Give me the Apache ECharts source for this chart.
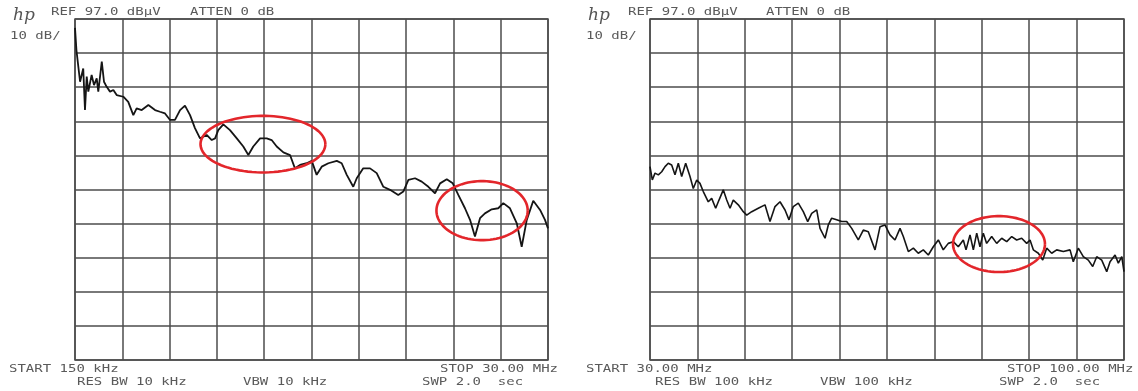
<!DOCTYPE html>
<html>
<head>
<meta charset="utf-8">
<style>html,body{margin:0;padding:0;background:#fff;}#c{width:1138px;height:391px;}</style>
<script src="https://cdn.jsdelivr.net/npm/echarts@6/dist/echarts.min.js"></script>
</head>
<body>
<div id="c"></div>
<script>
// ---- data (frequency MHz, level dBµV) ----
const leftRange = [0.15, 30];
const rightRange = [30, 100];
const levelRange = [-3, 97]; // REF 97.0 dBµV, 10 dB/div, 10 div

const leftTrace = [
[0.15,94.4],[0.24,87.9],[0.36,87.4],[0.47,78.6],[0.67,82.5],[0.78,70.3],[0.89,80.1],[0.99,75.7],
[1.20,80.6],[1.35,77.6],[1.52,79.6],[1.62,75.7],[1.84,84.5],[1.98,78.6],[2.15,77.1],[2.36,75.7],
[2.57,76.2],[2.78,74.7],[3.20,74.2],[3.51,72.7],[3.83,68.8],[4.04,70.8],[4.36,70.3],[4.78,71.8],
[5.20,70.3],[5.51,69.8],[5.83,69.3],[6.15,67.4],[6.46,67.4],[6.78,70.3],[7.09,71.6],[7.41,68.8],
[7.72,65.0],[8.04,62.0],[8.46,63.0],[8.78,61.5],[8.99,62.0],[9.19,64.4],[9.51,66.1],[9.93,64.4],
[10.36,62.0],[10.77,59.6],[11.09,57.1],[11.40,59.6],[11.83,62.0],[12.25,62.0],[12.56,61.5],[12.88,59.6],
[13.30,57.9],[13.72,57.1],[14.03,53.2],[14.35,54.2],[14.77,54.7],[15.09,55.4],[15.40,51.3],[15.72,53.7],
[16.14,54.7],[16.67,55.4],[16.98,54.7],[17.30,51.3],[17.71,47.8],[17.93,50.3],[18.34,53.2],[18.77,53.2],
[19.19,51.8],[19.61,47.8],[20.03,46.9],[20.55,45.4],[20.87,46.4],[21.19,49.8],[21.61,50.3],[22.03,49.3],
[22.45,47.8],[22.87,45.9],[23.19,48.8],[23.61,50.0],[23.99,48.8],[24.34,45.4],[24.76,41.5],[25.08,38.1],
[25.39,33.2],[25.71,38.6],[26.02,40.0],[26.45,41.2],[26.86,41.5],[27.18,43.0],[27.60,41.5],[28.03,37.1],
[28.34,30.2],[28.66,38.1],[29.07,43.7],[29.50,41.0],[29.81,38.1],[30.00,35.6]
];

const rightTrace = [
[30.00,53.7],[30.34,49.8],[30.74,51.8],[31.23,51.3],[31.73,52.2],[32.22,53.7],[32.70,54.7],[33.20,54.2],
[33.69,51.3],[34.18,54.7],[34.68,50.8],[35.27,54.7],[35.91,50.8],[36.39,47.3],[36.90,49.8],[37.38,48.8],
[37.87,46.4],[38.61,43.4],[39.11,44.4],[39.70,41.5],[40.19,43.9],[40.82,46.9],[41.33,43.9],[41.82,41.5],
[42.30,43.9],[43.04,42.5],[43.78,40.5],[44.28,39.5],[45.02,40.5],[45.99,41.5],[46.98,42.5],[47.72,37.6],
[48.46,42.0],[49.20,43.4],[49.94,41.0],[50.53,38.1],[51.16,42.0],[51.90,43.0],[52.64,40.5],[53.29,37.6],
[53.88,40.0],[54.62,41.0],[55.11,35.6],[55.85,32.7],[56.33,36.6],[56.83,38.6],[57.57,38.1],[58.31,37.6],
[59.05,37.6],[59.79,35.6],[60.76,32.2],[61.50,35.1],[62.24,34.6],[63.23,29.3],[63.97,36.1],[64.70,36.6],
[65.44,33.7],[66.18,32.2],[66.92,35.6],[67.41,33.2],[68.15,28.8],[68.89,29.8],[69.62,28.3],[70.36,29.3],
[71.10,27.8],[71.84,30.2],[72.58,32.2],[73.31,29.3],[74.05,31.2],[74.79,31.7],[75.53,30.2],[76.27,32.2],
[76.67,29.3],[77.26,33.7],[77.75,29.3],[78.25,34.2],[78.73,30.2],[79.22,34.2],[79.72,31.2],[80.46,33.2],
[81.20,31.2],[81.94,32.7],[82.68,31.7],[83.42,33.2],[84.15,32.2],[84.89,32.7],[85.63,31.2],[86.12,32.2],
[86.61,29.3],[87.35,28.3],[88.00,26.3],[88.58,29.8],[89.32,28.3],[90.06,29.3],[91.04,28.8],[92.03,29.3],
[92.51,25.8],[93.25,29.8],[93.99,27.3],[94.73,26.3],[95.38,24.4],[95.97,27.3],[96.71,26.3],[97.45,22.9],
[97.94,25.8],[98.68,27.8],[99.16,25.4],[99.67,27.3],[100.00,22.9]
];

// highlight ellipses: [centre MHz, centre dBµV, half-width MHz, half-height dB]
const leftMarks = [[12.01,60.3,3.94,8.3],[25.84,40.8,2.88,8.65]];
const rightMarks = [[81.54,31.0,6.79,8.2]];

// annotation texts
const leftHeader = ['REF 97.0 dB\u00b5V', 'ATTEN 0 dB', '10 dB/'];
const leftFooter = ['START 150 kHz', 'STOP 30.00 MHz', 'RES BW 10 kHz', 'VBW 10 kHz', 'SWP 2.0  sec'];
const rightHeader = ['REF 97.0 dB\u00b5V', 'ATTEN 0 dB', '10 dB/'];
const rightFooter = ['START 30.00 MHz', 'STOP 100.00 MHz', 'RES BW 100 kHz', 'VBW 100 kHz', 'SWP 2.0  sec'];

// ---- chart ----
const chart = echarts.init(document.getElementById('c'), null, {renderer: 'canvas'});
const gridColor = '#4d4d4d';

function gridAxis(gi) {
  return {
    type: 'value', gridIndex: gi, min: 0, max: 10, interval: 1,
    axisLine: {show: false}, axisTick: {show: false}, axisLabel: {show: false},
    splitLine: {show: true, lineStyle: {color: gridColor, width: 1.5}}
  };
}
function dataAxis(gi, range) {
  return {type: 'value', gridIndex: gi, min: range[0], max: range[1], show: false, splitLine: {show: false}};
}

function ellipseSeries(xi, yi, data) {
  return {
    type: 'custom', xAxisIndex: xi, yAxisIndex: yi, data: data, clip: false, z: 5,
    renderItem: function (params, api) {
      const c = api.coord([api.value(0), api.value(1)]);
      const e = api.coord([api.value(0) + api.value(2), api.value(1) + api.value(3)]);
      const rx = Math.abs(e[0] - c[0]), ry = Math.abs(e[1] - c[1]);
      const pts = [];
      for (let i = 0; i <= 90; i++) {
        const t = i / 90 * Math.PI * 2;
        pts.push([c[0] + rx * Math.cos(t), c[1] + ry * Math.sin(t)]);
      }
      return {type: 'polyline', shape: {points: pts}, style: {stroke: '#e3262b', lineWidth: 2.6, fill: null}};
    }
  };
}

const mono = '14px "DejaVu Sans Mono"';
function txt(s, x, y) {
  return {type: 'text', x: x, y: y, scaleY: 0.72, z: 10,
    style: {text: s, font: mono, fill: '#5a5a5a', textAlign: 'left', textVerticalAlign: 'middle'}};
}
function logo(x, y) {
  return {type: 'text', x: x, y: y, z: 10,
    style: {text: 'hp', font: 'italic 17px "DejaVu Serif"', fill: '#555', textAlign: 'left', textVerticalAlign: 'middle'}};
}

const option = {
  animation: false,
  backgroundColor: '#ffffff',
  grid: [
    {left: 75, top: 19, width: 473, height: 341, show: true, borderColor: gridColor, borderWidth: 1.5, backgroundColor: 'transparent'},
    {left: 650, top: 19, width: 474, height: 341, show: true, borderColor: gridColor, borderWidth: 1.5, backgroundColor: 'transparent'}
  ],
  xAxis: [gridAxis(0), dataAxis(0, leftRange), gridAxis(1), dataAxis(1, rightRange)],
  yAxis: [gridAxis(0), dataAxis(0, levelRange), gridAxis(1), dataAxis(1, levelRange)],
  series: [
    {type: 'line', xAxisIndex: 1, yAxisIndex: 1, data: leftTrace, showSymbol: false, z: 3,
     lineStyle: {color: '#151515', width: 1.8}},
    {type: 'line', xAxisIndex: 3, yAxisIndex: 3, data: rightTrace, showSymbol: false, z: 3,
     lineStyle: {color: '#151515', width: 1.6}},
    ellipseSeries(1, 1, leftMarks),
    ellipseSeries(3, 3, rightMarks)
  ],
  graphic: [
    logo(13, 16), txt(leftHeader[0], 51, 12), txt(leftHeader[1], 190, 12), txt(leftHeader[2], 10, 36),
    txt(leftFooter[0], 9, 369), txt(leftFooter[1], 440, 369), txt(leftFooter[2], 77, 382),
    txt(leftFooter[3], 243, 382), txt(leftFooter[4], 422, 382),
    logo(588, 16), txt(rightHeader[0], 628, 12), txt(rightHeader[1], 766, 12), txt(rightHeader[2], 586, 36),
    txt(rightFooter[0], 586, 369), txt(rightFooter[1], 1007, 369), txt(rightFooter[2], 655, 382),
    txt(rightFooter[3], 820, 382), txt(rightFooter[4], 999, 382)
  ]
};
chart.setOption(option);
</script>
</body>
</html>
